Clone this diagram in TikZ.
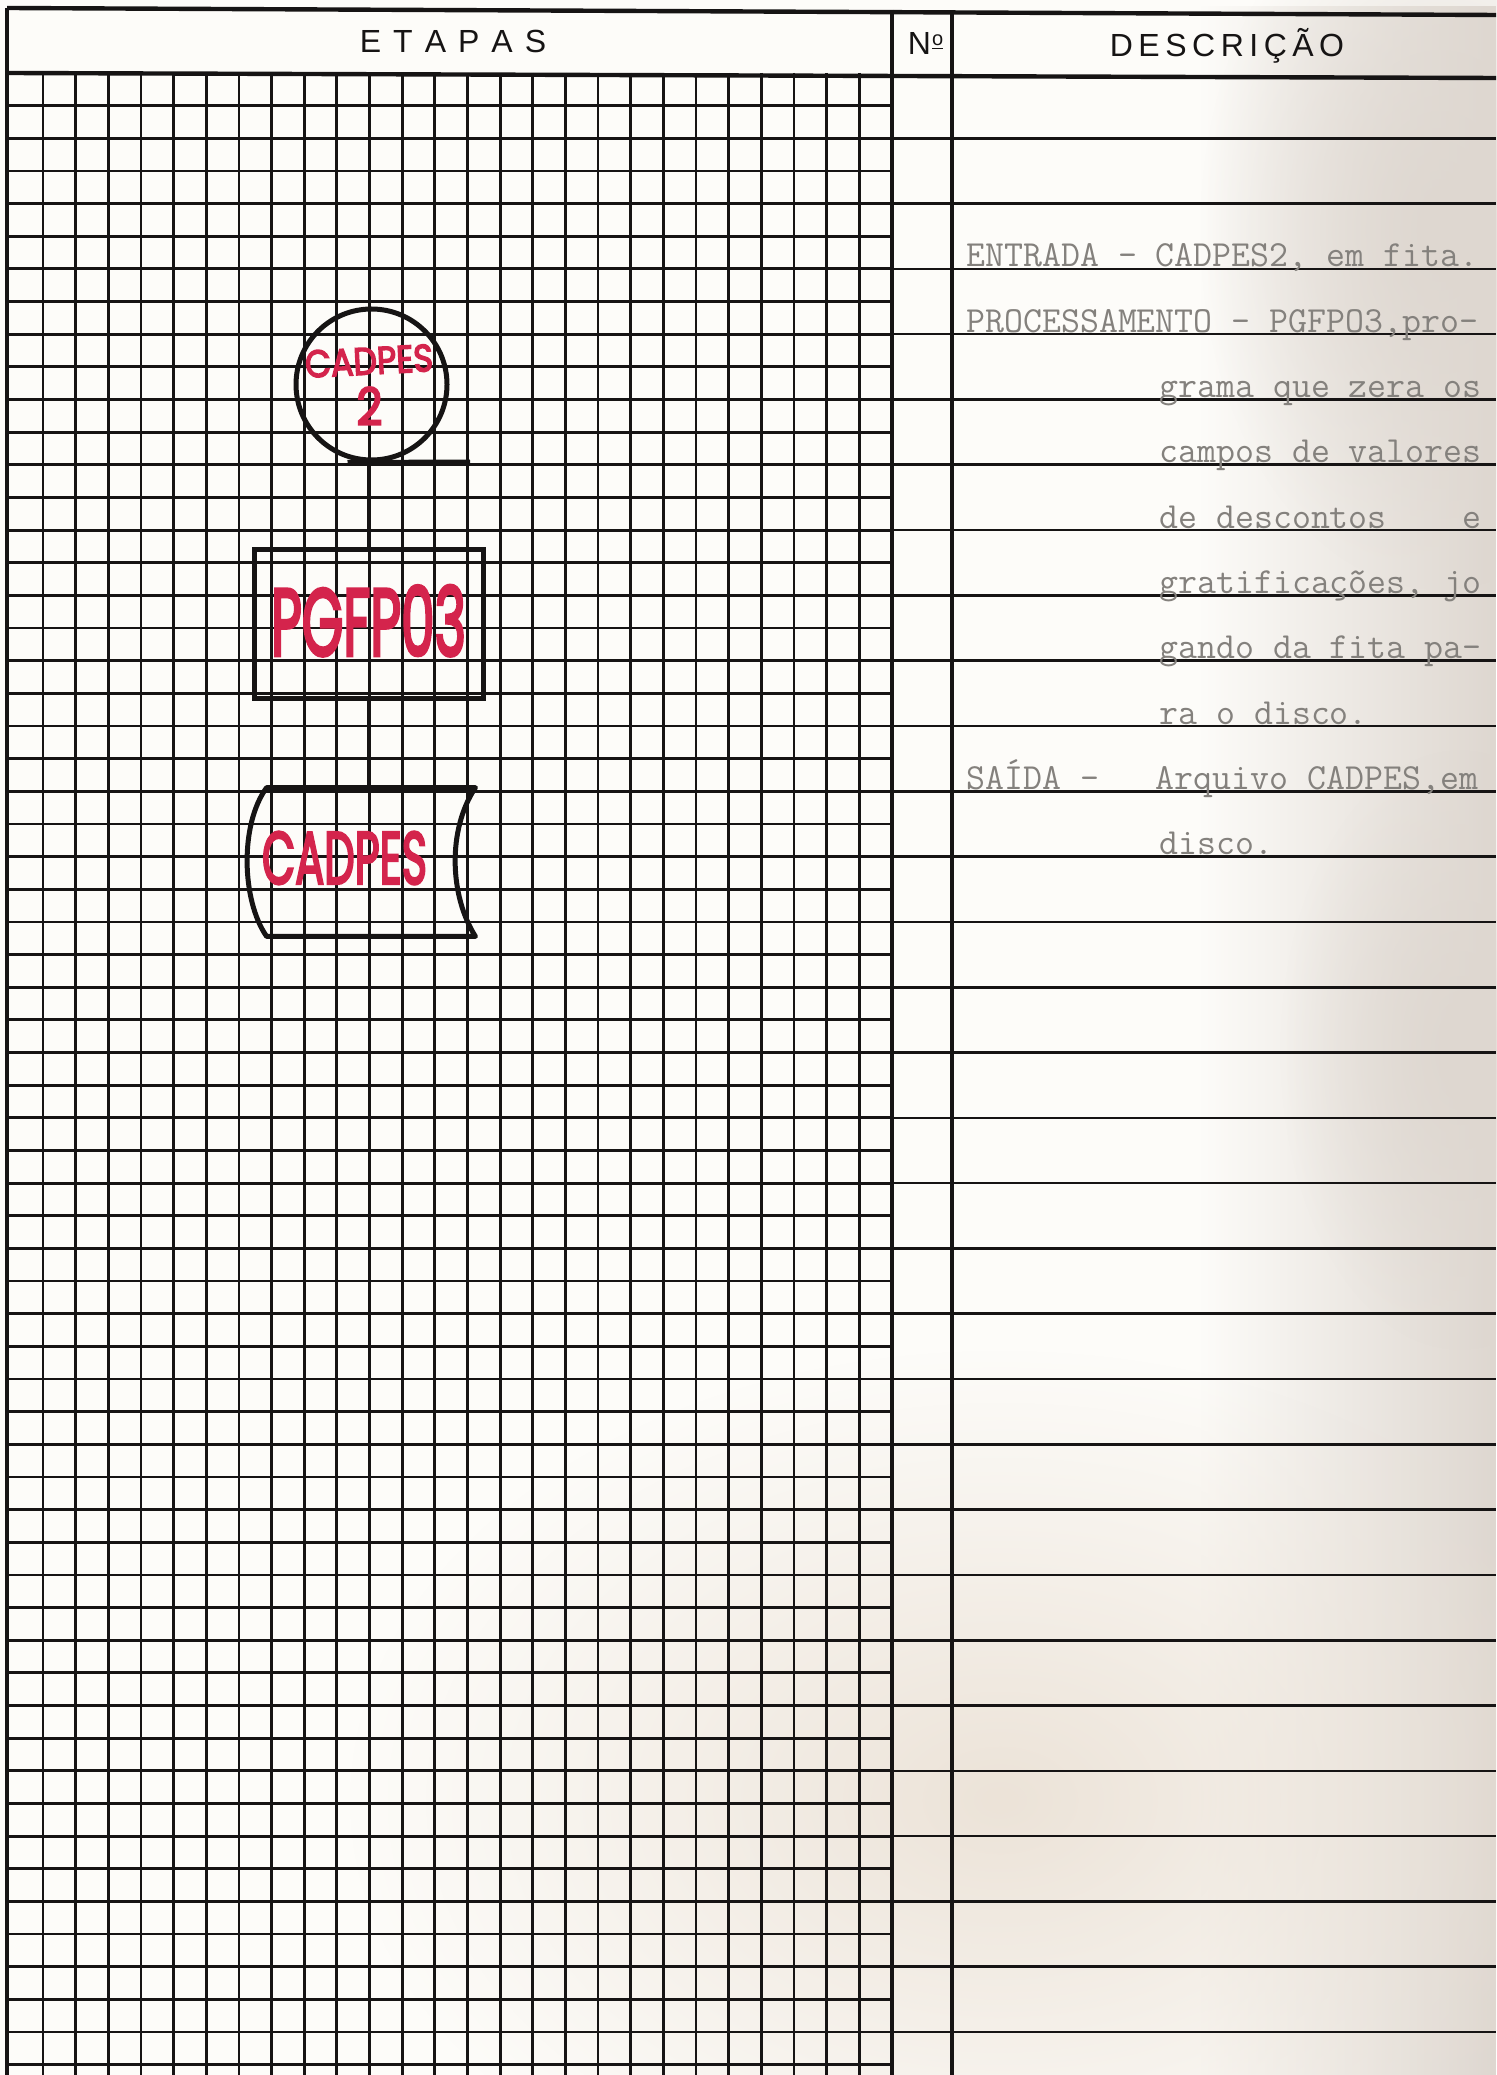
\documentclass[tikz,border=0pt]{standalone}
\usepackage{fontspec}
\usepackage{graphicx}
\usetikzlibrary{fadings}
\newfontfamily\headfont{Liberation Sans}
\newfontfamily\handfont[FakeBold=4]{Poppins}
\definecolor{paper}{RGB}{253,252,249}
\definecolor{stain}{RGB}{222,215,208}
\definecolor{stainb}{RGB}{236,227,216}
\definecolor{ink}{RGB}{22,20,20}
\definecolor{typed}{RGB}{132,129,125}
\definecolor{marker}{RGB}{212,36,76}
\tikzfading[name=fadeleft, left color=transparent!100, right color=transparent!0]
\tikzfading[name=blob, inner color=transparent!0, outer color=transparent!100]
\begin{document}
\begin{tikzpicture}[x=0.5pt,y=-0.5pt,
  gridline/.style={draw=ink,line width=1.4pt},
  frameline/.style={draw=ink,line width=2.2pt},
  descline/.style={draw=ink,line width=1.3pt},
  shapeline/.style={draw=ink,line width=2.5pt},
  conn/.style={draw=ink,line width=1.5pt},
  typed/.style={anchor=base west,inner sep=0pt,font=\ttfamily\fontsize{18.4pt}{20pt}\selectfont,text=typed},
  hand/.style={inner sep=0pt,text=marker,font=\handfont},
  head/.style={anchor=base,inner sep=0pt,font=\headfont\fontsize{16pt}{18pt}\selectfont,text=ink}]

\useasboundingbox (0,0) rectangle (1496,2075);
% paper
\fill[paper] (0,0) rectangle (1496,2075);
\fill[stain, path fading=fadeleft] (1200,0) rectangle (1496,2075);
\fill[stainb, path fading=blob] (1000,1800) ellipse [x radius=650, y radius=450];
\fill[stain, path fading=blob] (1440,230) ellipse [x radius=240, y radius=360];
\fill[stain, path fading=blob] (1460,1050) ellipse [x radius=180, y radius=300];

% grid
\foreach \k in {1,...,61} \draw[gridline] (7,{73+32.65*\k}) -- (892,{73+32.65*\k});
\foreach \k in {0,...,25} \draw[gridline] ({43+32.65*\k},73) -- ({43+32.65*\k},2075);
% description lines
\foreach \k in {2,4,...,60} \draw[descline] (892,{73+32.65*\k}) -- (1496,{73+32.65*\k});

% frame
\draw[frameline] (7,8) -- (1496,15);
\draw[frameline] (7,73) -- (1496,78);
\draw[frameline] (7,8) -- (7,2075);
\draw[frameline] (892,10) -- (892,2075);
\draw[frameline] (952,11) -- (952,2075);

% header
\node[head] (etapas) at (453,53) {E\kern6pt T\kern6pt A\kern6pt P\kern6pt A\kern6pt S};
\node[head] (num) at (925.5,55) {N\kern0.6pt\raisebox{4.5pt}{\underline{\smash{\fontsize{10pt}{10pt}\selectfont o}}}};
\node[head] (desc) at (1227,57) {D\kern2.75pt E\kern2.75pt S\kern2.75pt C\kern2.75pt R\kern2.75pt I\kern2.75pt Ç\kern2.75pt Ã\kern2.75pt O};

% typed description
\node[typed] (t1) at (966,{73+32.65*6-2}) {ENTRADA - CADPES2, em fita.};
\node[typed] (t2) at (966,{73+32.65*8-2}) {PROCESSAMENTO - PGFPO3,pro-};
\node[typed] (t3) at (1159,{73+32.65*10-2}) {grama que zera os};
\node[typed] (t4) at (1159,{73+32.65*12-2}) {campos de valores};
\node[typed] (t5) at (1159,{73+32.65*14-2}) {de descontos~~~~e};
\node[typed] (t6) at (1159,{73+32.65*16-2}) {gratificações, jo};
\node[typed] (t7) at (1159,{73+32.65*18-2}) {gando da fita pa-};
\node[typed] (t8) at (1159,{73+32.65*20-2}) {ra o disco.};
\node[typed] (t9) at (966,{73+32.65*22-2}) {SAÍDA -~~~Arquivo CADPES,em};
\node[typed] (t10) at (1159,{73+32.65*24-2}) {disco.};

% flowchart: tape
\node[circle,shapeline,minimum size=75.5pt,inner sep=0pt] (tape) at (371.5,384.5) {};
\coordinate (tail) at (470,462);
\draw[shapeline] ([xshift=-12pt]tape.south) -- (tail);
\node[hand,rotate=3] (tapeA) at (369,361) {\resizebox{64pt}{13.5pt}{CADPES}};
\node[hand] (tapeB) at (369.5,406) {\resizebox{13pt}{19pt}{2}};

% process
\node[rectangle,shapeline,minimum width=114.5pt,minimum height=74.5pt,inner sep=0pt,text=marker,font=\handfont] (prog) at (368.5,623.5) {\raisebox{3pt}{\resizebox{97.5pt}{35pt}{PGFP03}}};

% storage
\node[minimum width=104pt,minimum height=74pt,inner sep=0pt] (store) at (371,862) {};
\draw[shapeline,line join=round] (store.north west) -- (store.north east)
  .. controls +(-28,42) and +(-26,-41) .. (store.south east)
  -- (store.south west)
  .. controls +(-25,-36) and +(-27,37) .. (store.north west) -- cycle;
\node[hand] (storelbl) at (344.5,858) {\resizebox{82.5pt}{26pt}{CADPES}};

% connectors
\draw[conn] (prog.north |- tape.south) -- (prog.north);
\draw[conn] (prog.south) -- (prog.south |- store.north);
\end{tikzpicture}
\end{document}
